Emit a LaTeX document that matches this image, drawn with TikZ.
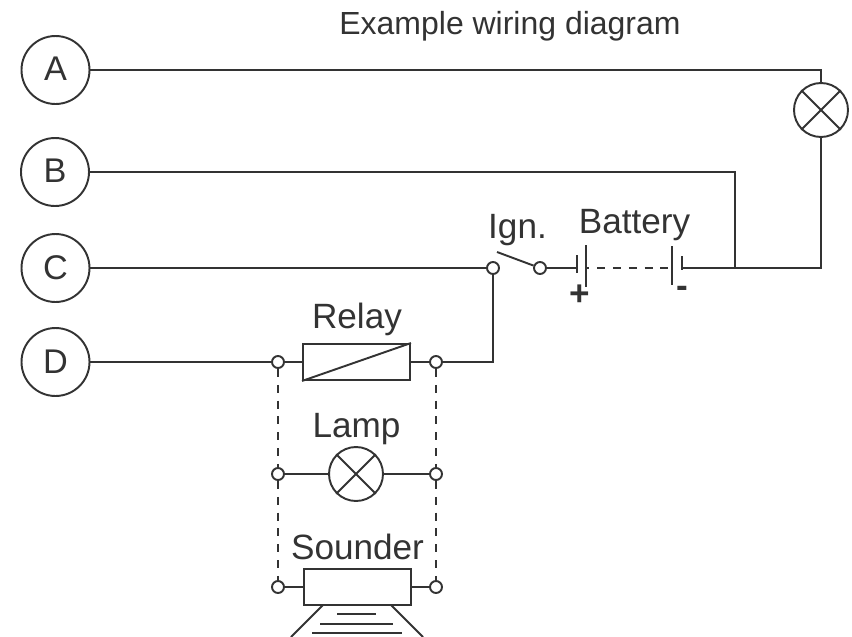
\documentclass[tikz,border=0pt]{standalone}
\usepackage{fontspec}
\setmainfont{Liberation Sans}
\definecolor{wire}{gray}{0.2}
\tikzset{
	wiring/.style={color=wire, line width=1.1pt},
	linked/.style={wiring, dash pattern=on 4.5pt off 4.5pt},
	letter/.style={circle, draw=wire, line width=1.1pt, minimum size=1.36cm, inner sep=0pt, text=wire, font=\fontsize{19.5}{22}\selectfont},
	term/.style={circle, draw=wire, line width=1.1pt, minimum size=0.24cm, inner sep=0pt},
	lamp/.style={circle, draw=wire, line width=1.1pt, minimum size=1.08cm, inner sep=0pt},
	unit/.style={rectangle, draw=wire, line width=1.1pt, minimum width=2.14cm, minimum height=0.72cm, inner sep=0pt},
	plate/.style={rectangle, fill=wire, minimum width=1.1pt, inner sep=0pt},
	caption/.style={text=wire, inner sep=0pt, anchor=base, font=\fontsize{20}{24}\selectfont},
}

\begin{document}
\begin{tikzpicture}[x=0.02cm, y=-0.02cm]
	\useasboundingbox (0,0) rectangle (852,636);

	% Title
	\node[caption, font=\fontsize{18.2}{22}\selectfont] (title) at (510,34) {Example wiring diagram};

	% Lettered terminals
	\node[letter] (A) at (55.5,70) {\raisebox{1.8pt}{A}};
	\node[letter] (B) at (55,172) {\raisebox{1pt}{B}};
	\node[letter] (C) at (55.5,268) {C};
	\node[letter] (D) at (55.5,362) {D};

	% Warning lamp
	\node[lamp] (lampA) at (821,110) {};
	\draw[wiring] (lampA.north west) -- (lampA.south east);
	\draw[wiring] (lampA.north east) -- (lampA.south west);

	% Ignition switch
	\node[term] (ignL) at (493,268) {};
	\node[term] (ignR) at (540,268) {};
	\coordinate (blade) at (497,252);
	\node[caption] (ign) at (517.5,238) {Ign.};

	% Battery
	\node[plate, minimum height=0.36cm] (posS) at (577,264) {};
	\node[plate, minimum height=0.84cm] (posL) at (586,266) {};
	\node[plate, minimum height=0.78cm] (negL) at (672,265.5) {};
	\node[plate, minimum height=0.28cm] (negS) at (682,263) {};
	\node[caption] (battery) at (634.5,233) {Battery};
	\node[caption, anchor=center, font=\fontsize{20}{24}\selectfont\bfseries] (plus) at (580,295) {+};
	\node[caption, anchor=center, font=\fontsize{20}{24}\selectfont\bfseries] (minus) at (682.5,291.5) {-};
	\coordinate (junction) at (735,268);

	% Relay
	\node[unit] (relay) at (356.5,362) {};
	\draw[wiring] (relay.south west) -- (relay.north east);
	\node[term] (relayL) at (278,362) {};
	\node[term] (relayR) at (436,362) {};
	\node[caption] (relayText) at (357,328) {Relay};

	% Lamp
	\node[lamp] (lampB) at (356,474) {};
	\draw[wiring] (lampB.north west) -- (lampB.south east);
	\draw[wiring] (lampB.north east) -- (lampB.south west);
	\node[term] (lampL) at (278,474) {};
	\node[term] (lampR) at (436,474) {};
	\node[caption] (lampText) at (356.5,437) {Lamp};

	% Sounder
	\node[unit] (sounder) at (357.5,587) {};
	\node[term] (sounderL) at (278,587) {};
	\node[term] (sounderR) at (436,587) {};
	\node[caption] (sounderText) at (357.5,559) {Sounder};

	% Horn
	\coordinate (hornL) at (323,605);
	\coordinate (hornR) at (391,605);
	\coordinate (hornLB) at (291,637);
	\coordinate (hornRB) at (423,637);
	\draw[wiring] (hornL) -- (hornLB);
	\draw[wiring] (hornR) -- (hornRB);
	\draw[wiring] (337,614) -- (376,614);
	\draw[wiring] (320,624) -- (393,624);
	\draw[wiring] (312,633) -- (402,633);

	% Wires
	\draw[wiring] (A.east) -| (lampA.north);
	\draw[wiring] (B.east) -| (junction);
	\draw[wiring] (C.east) -- (ignL.west);
	\draw[wiring] (D.east) -- (relayL.west);
	\draw[wiring] (lampA.south) |- (negS.east |- junction);
	\draw[wiring] (blade) -- (ignR);
	\draw[wiring] (ignR.east) -- (posS.west |- ignR);
	\draw[wiring, dash pattern=on 4.5pt off 4.5pt, dash phase=3.4pt] (posL.east |- ignR) -- (negL.west |- ignR);
	\draw[wiring] (ignL.south) |- (relayR.east);
	\draw[wiring] (relayL.east) -- (relay.west);
	\draw[wiring] (relay.east) -- (relayR.west);
	\draw[wiring] (lampL.east) -- (lampB.west);
	\draw[wiring] (lampB.east) -- (lampR.west);
	\draw[wiring] (sounderL.east) -- (sounder.west);
	\draw[wiring] (sounder.east) -- (sounderR.west);

	% Dashed links
	\draw[linked] (relayL.south) -- (lampL.north);
	\draw[linked] (lampL.south) -- (sounderL.north);
	\draw[linked] (relayR.south) -- (lampR.north);
	\draw[linked] (lampR.south) -- (sounderR.north);
\end{tikzpicture}
\end{document}
